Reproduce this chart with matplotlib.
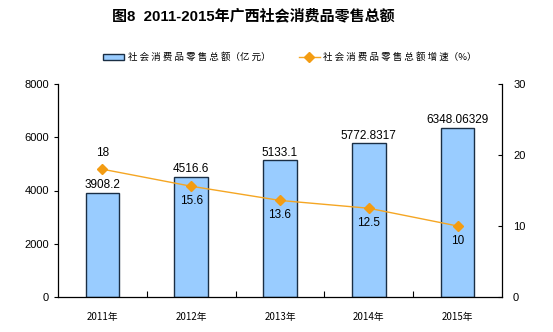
import matplotlib
matplotlib.use("Agg")
import matplotlib.pyplot as plt
import numpy as np

plt.rcParams['font.family'] = ['Liberation Sans', 'Noto Sans CJK SC', 'DejaVu Sans']

years = ["2011年", "2012年", "2013年", "2014年", "2015年"]
sales = [3908.2, 4516.6, 5133.1, 5772.8317, 6348.06329]
sales_labels = ["3908.2", "4516.6", "5133.1", "5772.8317", "6348.06329"]
growth = [18, 15.6, 13.6, 12.5, 10]
growth_labels = ["18", "15.6", "13.6", "12.5", "10"]

fig = plt.figure(figsize=(5.53, 3.32), dpi=100)
ax = fig.add_axes([58/553, 1-297/332, 444/553, 213/332])
x = np.arange(len(years))
bars = ax.bar(x, sales, width=0.38, color="#99CCFF", edgecolor="#1A2E44", linewidth=1.0, zorder=2)
ax.set_xlim(-0.5, 4.5)
ax.set_ylim(0, 8000)
ax.set_yticks([0, 2000, 4000, 6000, 8000])
ax.tick_params(axis='y', labelsize=8, length=3, direction='out', width=0.8)
ax.set_xticks(x)
ax.set_xticklabels(years, fontsize=7, family=['Noto Sans CJK SC'])
ax.tick_params(axis='x', length=0, pad=11)
ax.set_xticks(np.arange(0.5, 4.5, 1), minor=True)
ax.tick_params(axis='x', which='minor', length=4, direction='in', width=0.8)
ax.spines['top'].set_visible(False)
ax.spines['right'].set_visible(False)
for s in ['left', 'bottom']:
    ax.spines[s].set_linewidth(0.9)
for xi, v, lab in zip(x, sales, sales_labels):
    ax.text(xi, v + 60, lab, ha='center', va='bottom', fontsize=8.5)

ax2 = ax.twinx()
ax2.set_ylim(0, 30)
ax2.set_yticks([0, 10, 20, 30])
ax2.tick_params(axis='y', labelsize=8, length=3, direction='in', width=0.8, pad=8)
for s in ['top', 'left', 'bottom']:
    ax2.spines[s].set_visible(False)
ax2.spines['right'].set_linewidth(0.9)
line, = ax2.plot(x, growth, color="#F5A623", linewidth=1.0, marker='D', markersize=5,
                 markerfacecolor="#F39C12", markeredgecolor="#F39C12", zorder=3)
for i, (xi, v, lab) in enumerate(zip(x, growth, growth_labels)):
    if i == 0:
        ax2.text(xi, v + 1.4, lab, ha='center', va='bottom', fontsize=8.5)
    else:
        ax2.text(xi, v - 1.2, lab, ha='center', va='top', fontsize=8.5)

fig.text(253/553, 1 - 16/332, "图8  2011-2015年广西社会消费品零售总额", ha='center', va='center',
         fontsize=10.8, fontweight='bold', family=['Liberation Sans', 'Noto Sans CJK SC'])

handles = [bars, line]
labels = ["社 会 消 费 品 零 售 总 额（亿 元）", "社 会 消 费 品 零 售 总 额 增 速（%）"]
fig.legend(handles, labels, loc='center', bbox_to_anchor=(290/553, 1 - 57/332), ncol=2, frameon=False,
           prop={'family': ['Noto Sans CJK SC'], 'size': 6.8}, handlelength=2.2, columnspacing=3.0,
           handletextpad=0.4, handleheight=0.6)

fig.savefig("out.png", dpi=100)
